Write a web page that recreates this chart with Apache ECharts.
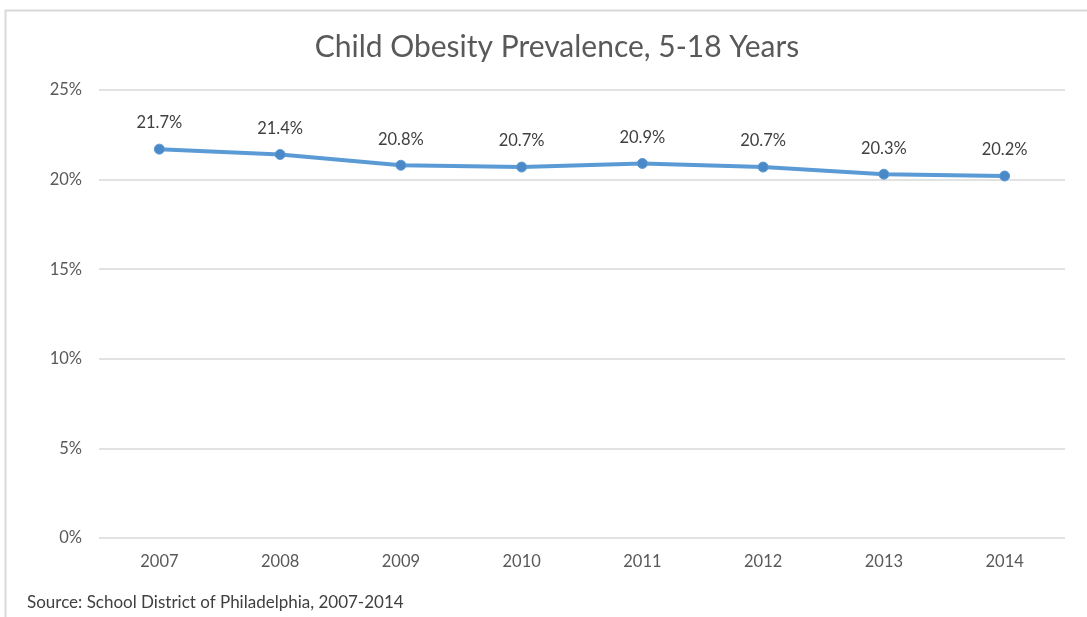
<!DOCTYPE html>
<html>
<head>
<meta charset="utf-8">
<script src="https://cdn.jsdelivr.net/npm/echarts@6/dist/echarts.min.js"></script>
<style>
  html, body { margin: 0; padding: 0; background: #fff; }
  #chart { width: 1087px; height: 617px; }
</style>
</head>
<body>
<div id="chart"></div>
<script>
// chart data
const years = ['2007', '2008', '2009', '2010', '2011', '2012', '2013', '2014'];
const obesity = [21.7, 21.4, 20.8, 20.7, 20.9, 20.7, 20.3, 20.2];

const font = 'Lato, "Open Sans", sans-serif';
const myChart = echarts.init(document.getElementById('chart'));

const option = {
  backgroundColor: '#fff',
  animation: false,
  title: {
    text: 'Child Obesity Prevalence, 5-18 Years',
    left: 552,
    top: 27,
    textAlign: 'center',
    textStyle: { fontFamily: font, fontSize: 30, fontWeight: 'normal', color: '#595959' }
  },
  grid: { left: 99, right: 22, top: 90, bottom: 79, containLabel: false },
  xAxis: {
    type: 'category',
    data: years,
    boundaryGap: true,
    axisLine: { show: false },
    axisTick: { show: false },
    axisLabel: { fontFamily: font, fontSize: 16.5, color: '#595959', margin: 15 }
  },
  yAxis: {
    type: 'value',
    min: 0,
    max: 25,
    interval: 5,
    axisLine: { show: false },
    axisTick: { show: false },
    splitLine: { lineStyle: { color: '#d9d9d9', width: 1.5 } },
    axisLabel: {
      fontFamily: font, fontSize: 16.5, color: '#595959', margin: 17,
      formatter: v => v + '%'
    }
  },
  series: [{
    type: 'line',
    data: obesity,
    symbol: 'circle',
    symbolSize: 10,
    lineStyle: { color: '#5b9bd5', width: 4 },
    itemStyle: { color: '#4a88c7', borderColor: '#5b9bd5', borderWidth: 1 },
    label: {
      show: true,
      position: 'top',
      distance: 12,
      fontFamily: font,
      fontSize: 16.5,
      color: '#404040',
      formatter: p => p.value.toFixed(1) + '%'
    }
  }],
  graphic: [
    {
      type: 'rect',
      shape: { x: 5.5, y: 10.5, width: 1100, height: 640 },
      style: { fill: null, stroke: '#d9d9d9', lineWidth: 2 },
      silent: true
    },
    {
      type: 'text',
      left: 27,
      top: 594,
      style: {
        text: 'Source: School District of Philadelphia, 2007-2014',
        fontFamily: font, fontSize: 17, fill: '#404040'
      }
    }
  ]
};

myChart.setOption(option);
</script>
</body>
</html>
